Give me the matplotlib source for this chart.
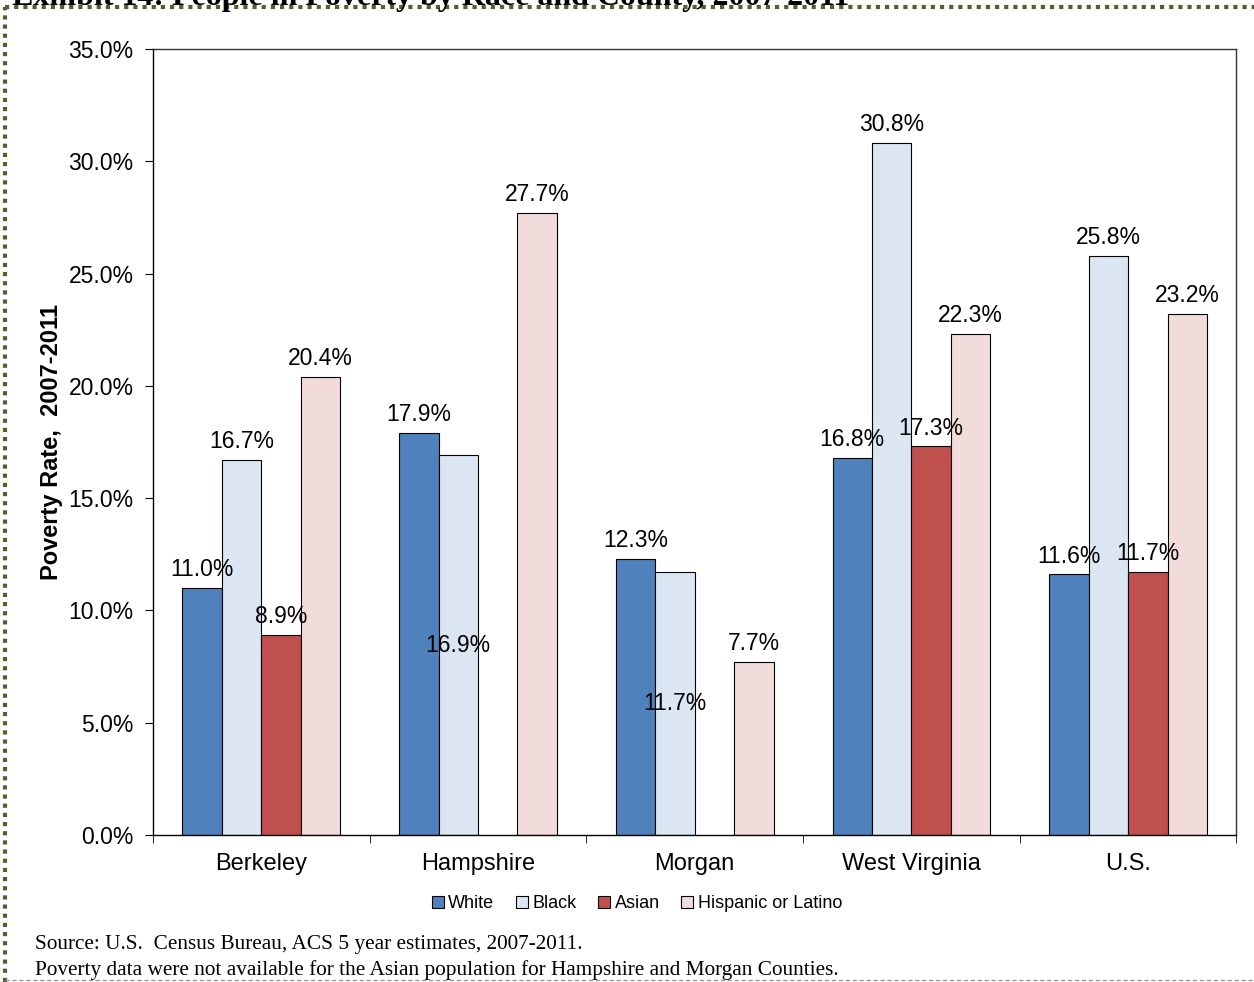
import matplotlib.pyplot as plt
import matplotlib.lines as mlines
import numpy as np

plt.rcParams['font.family'] = ['Liberation Sans', 'DejaVu Sans']

# poverty rates (%) by race and county, ACS 2007-2011
counties = ['Berkeley', 'Hampshire', 'Morgan', 'West Virginia', 'U.S.']
races = ['White', 'Black', 'Asian', 'Hispanic or Latino']
white = [11.0, 17.9, 12.3, 16.8, 11.6]
black = [16.7, 16.9, 11.7, 30.8, 25.8]
asian = [8.9, np.nan, np.nan, 17.3, 11.7]
hispanic = [20.4, 27.7, 7.7, 22.3, 23.2]
colors = ['#4F81BD', '#DCE6F2', '#C0504D', '#F2DCDB']

fig = plt.figure(figsize=(12.54, 9.82), dpi=100)
ax = fig.add_axes([0.122, 0.1497, 0.864, 0.8004])

x = np.arange(len(counties))
w = 0.182
series = [white, black, asian, hispanic]
for k, (vals, c, name) in enumerate(zip(series, colors, races)):
    pos = x + (k - 1.5) * w
    ax.bar(pos, vals, w, color=c, edgecolor='black', linewidth=0.8, label=name)
    for p, v, cat in zip(pos, vals, counties):
        if np.isnan(v):
            continue
        lbl = f'{v:.1f}%'
        # Black labels in Hampshire and Morgan sit inside the bar
        if k == 1 and cat in ('Hampshire', 'Morgan'):
            ax.text(p, v / 2, lbl, ha='center', va='center', fontsize=16.5)
        else:
            ax.annotate(lbl, (p, v), xytext=(0, 5), textcoords='offset points',
                        ha='center', va='bottom', fontsize=16.5)

ax.set_xlim(-0.5, len(counties) - 0.5)
ax.set_ylim(0, 35)
ax.set_yticks(np.arange(0, 35.1, 5))
ax.set_yticklabels([f'{t:.1f}%' for t in np.arange(0, 35.1, 5)], fontsize=16.5)
ax.set_xticks(x)
ax.set_xticklabels(counties, fontsize=17)
ax.tick_params(axis='x', length=0, pad=13)
ax.set_xticks(np.arange(-0.5, len(counties)), minor=True)
ax.tick_params(axis='x', which='minor', length=6, direction='out')
ax.tick_params(axis='y', length=6, direction='out', pad=8)
for s in ax.spines.values():
    s.set_linewidth(1.0)
    s.set_color('#333333')
ax.spines['left'].set_color('black')
ax.spines['bottom'].set_color('black')

ax.set_ylabel('Poverty Rate,  2007-2011', fontsize=17, fontweight='bold', labelpad=4)

leg = fig.legend(loc='center', bbox_to_anchor=(0.508, 1 - 904 / 982), ncol=4,
                 frameon=False, fontsize=13, handlelength=0.65, handleheight=0.65,
                 handletextpad=0.25, columnspacing=1.2)

fig.text(35 / 1254, 1 - 944 / 982, 'Source: U.S.  Census Bureau, ACS 5 year estimates, 2007-2011.',
         family='Liberation Serif', fontsize=15.3, va='center')
fig.text(35 / 1254, 1 - 970 / 982,
         'Poverty data were not available for the Asian population for Hampshire and Morgan Counties.',
         family='Liberation Serif', fontsize=15.3, va='center')

# exhibit title, running off the top edge
fig.text(12 / 1254, 1 - 5 / 982, 'Exhibit 14: People in Poverty by Race and County, 2007-2011',
         family='Liberation Serif', fontweight='bold', fontsize=23, va='baseline')

# page frame
fig.add_artist(mlines.Line2D([5 / 1254, 5 / 1254], [0, 1 - 7 / 982], transform=fig.transFigure,
                             color='#4F6228', linewidth=3, linestyle=(0, (1, 1.2))))
fig.add_artist(mlines.Line2D([5 / 1254, 1], [1 - 7 / 982, 1 - 7 / 982], transform=fig.transFigure,
                             color='#4F6228', linewidth=3, linestyle=(0, (1, 1.2))))
fig.add_artist(mlines.Line2D([5 / 1254, 1], [1 - 980 / 982, 1 - 980 / 982], transform=fig.transFigure,
                             color='#999999', linewidth=1, linestyle=(0, (3, 2))))

fig.savefig('out.png', dpi=100)
